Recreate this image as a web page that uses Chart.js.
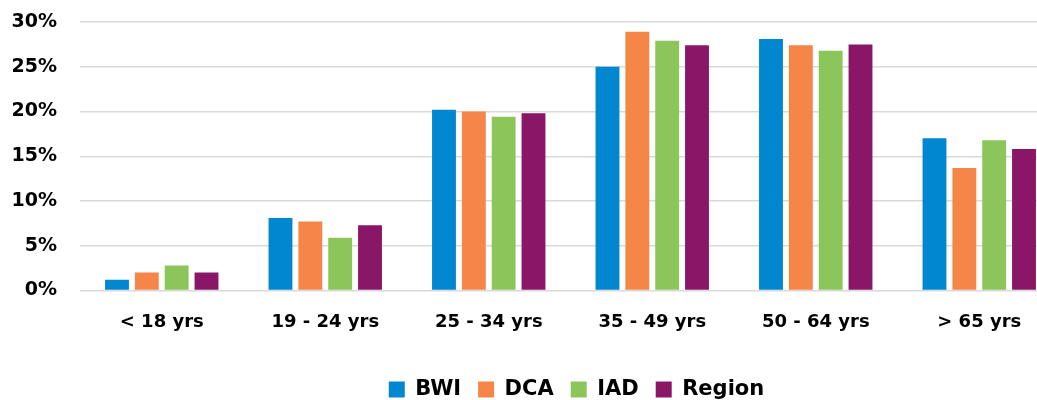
<!DOCTYPE html>
<html>
<head>
<meta charset="utf-8">
<script src="https://cdn.jsdelivr.net/npm/chart.js@4/dist/chart.umd.min.js"></script>
<style>
  html, body { margin: 0; padding: 0; background: #fff; }
  #frame { width: 1037px; height: 400px; overflow: hidden; position: relative; }
  #wrap { width: 1061px; height: 411px; position: absolute; left: 0; top: 0; }
</style>
</head>
<body>
<div id="frame"><div id="wrap"><canvas id="chart" width="1061" height="411"></canvas></div></div>
<script>
// Age groups and the share of each group at each airport (percent)
const ageGroups = ['< 18 yrs', '19 - 24 yrs', '25 - 34 yrs', '35 - 49 yrs', '50 - 64 yrs', '> 65 yrs'];
const bwi    = [1.2, 8.1, 20.2, 25.0, 28.1, 17.0];
const dca    = [2.0, 7.7, 20.0, 28.9, 27.4, 13.7];
const iad    = [2.8, 5.9, 19.4, 27.9, 26.8, 16.8];
const region = [2.0, 7.3, 19.8, 27.4, 27.5, 15.8];
const yTicks = [0, 5, 10, 15, 20, 25, 30];

const FONT = "'DejaVu Sans', sans-serif";

function series(label, data, color) {
  return {
    label: label,
    data: data,
    backgroundColor: color,
    borderWidth: 0,
    categoryPercentage: 0.73,
    barPercentage: 0.8
  };
}

// nudge the legend row a little to the right of the plot centre
const legendNudge = {
  id: 'legendNudge',
  afterLayout(chart) {
    const lg = chart.legend;
    if (lg) { lg.left += 6; lg.right += 6; }
  }
};

new Chart(document.getElementById('chart'), {
  type: 'bar',
  data: {
    labels: ageGroups,
    datasets: [
      series('BWI', bwi, '#0087cf'),
      series('DCA', dca, '#f58647'),
      series('IAD', iad, '#8cc65b'),
      series('Region', region, '#8a1668')
    ]
  },
  plugins: [legendNudge],
  options: {
    responsive: false,
    animation: false,
    devicePixelRatio: 1,
    layout: { padding: { top: 22, right: 0, bottom: 1, left: 0 } },
    plugins: {
      tooltip: { enabled: false },
      title: { display: false },
      legend: {
        position: 'bottom',
        fullSize: false,
        labels: {
          color: '#000',
          font: { family: FONT, size: 21, weight: 'bold' },
          boxWidth: 16,
          boxHeight: 16,
          padding: 17
        }
      }
    },
    scales: {
      x: {
        grid: { display: false, drawTicks: false },
        border: { display: false },
        ticks: {
          color: '#000',
          padding: 21,
          maxRotation: 0,
          font: { family: FONT, size: 18, weight: 'bold' }
        },
        afterFit: function (scale) { scale.height = 71.5; }
      },
      y: {
        min: 0,
        max: 30,
        afterBuildTicks: function (scale) {
          scale.ticks = yTicks.map(function (v) { return { value: v }; });
        },
        grid: { color: '#d9d9d9', lineWidth: 1.5, drawTicks: false },
        border: { display: false },
        ticks: {
          color: '#000',
          padding: 23,
          font: { family: FONT, size: 19, weight: 'bold' },
          callback: function (v) { return v + '%'; }
        },
        afterFit: function (scale) {
          scale.width = 80;
          scale.paddingTop = 0;
          scale.paddingBottom = 0;
        }
      }
    }
  }
});
</script>
</body>
</html>
